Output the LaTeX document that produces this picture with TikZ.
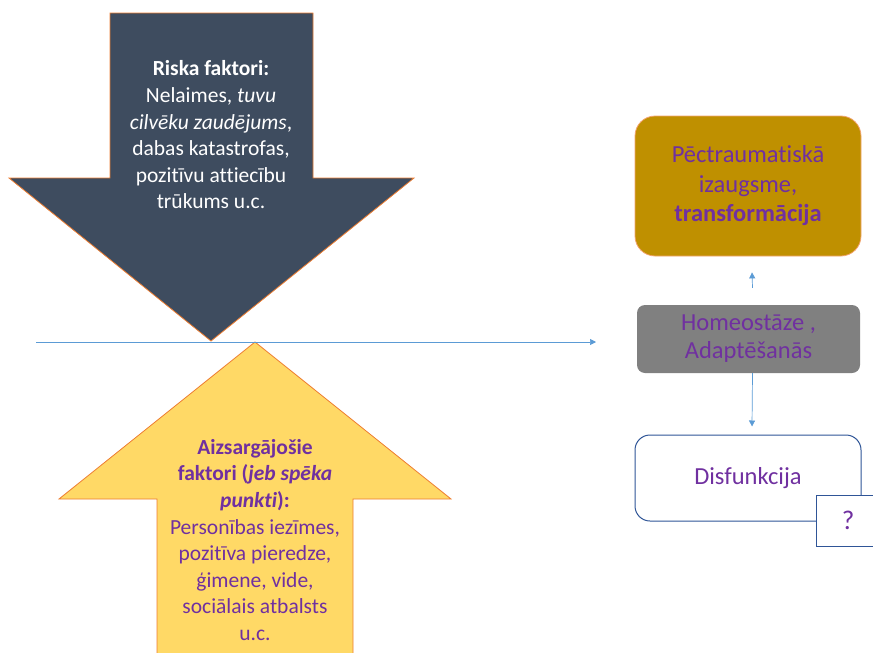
\documentclass[tikz,border=0pt]{standalone}
\usepackage{fontspec}
\setmainfont{Carlito}[Ligatures=NoCommon]
\usetikzlibrary{arrows.meta}
\definecolor{slate}{HTML}{3E4C5F}
\definecolor{gold}{HTML}{FFD966}
\definecolor{orng}{HTML}{ED7D31}
\definecolor{purp}{HTML}{7030A0}
\definecolor{dgold}{HTML}{BF9000}
\definecolor{lblue}{HTML}{5B9BD5}
\definecolor{dblue}{HTML}{2F5597}
\tikzset{
  arrowshape/.style={draw=orng, line width=0.8pt, line join=miter},
  conn/.style={draw=lblue, line width=0.7pt, -{Triangle[length=6pt,width=6pt]}},
  txt/.style={align=center, font=\fontsize{21.5}{26.6}\selectfont},
  boxtxt/.style={align=center, font=\fontsize{24.5}{29.5}\selectfont, text=purp},
}
\begin{document}
\begin{tikzpicture}[x=1pt,y=-1pt]
\useasboundingbox (0,0) rectangle (873,653);
% down arrow (risk factors)
\path[arrowshape, fill=slate] (110,13) -- (313,13) -- (313,178) -- (414,178) -- (211,341) -- (9,178) -- (110,178) -- cycle;
\node[txt, text=white] (risk) at (211,135) {\textbf{Riska faktori:}\\Nelaimes, \textit{tuvu}\\\textit{cilvēku zaudējums},\\dabas katastrofas,\\pozitīvu attiecību\\trūkums u.c.};
% up arrow (protective factors)
\path[arrowshape, fill=gold] (157,665) -- (157,499) -- (59,499) -- (255,342) -- (451,499) -- (353,499) -- (353,665) -- cycle;
\node[txt, text=purp] (prot) at (255,540) {\textbf{Aizsargājošie}\\\textbf{faktori (\textit{jeb spēka}}\\\textbf{\textit{punkti}):}\\Personības iezīmes,\\pozitīva pieredze,\\ģimene, vide,\\sociālais atbalsts\\u.c.};
% timeline
\coordinate (ls) at (36,342);
\coordinate (le) at (596,342);
\draw[conn] (ls) -- (le);
% right boxes
\node[boxtxt, draw=orng!70, line width=0.8pt, fill=dgold, rounded corners=20pt, minimum width=226pt, minimum height=140pt] (ptg) at (748,186) {Pēctraumatiskā\\izaugsme,\\\textbf{transformācija}};
\node[boxtxt, fill=gray!100, rounded corners=8pt, minimum width=223pt, minimum height=68pt, font=\fontsize{24.5}{28}\selectfont] (homeo) at (748.5,339) {Homeostāze ,\\Adaptēšanās};
\node[boxtxt, draw=dblue, line width=1pt, fill=white, rounded corners=15pt, minimum width=226pt, minimum height=86pt] (dis) at (748,478) {\raisebox{-2pt}{Disfunkcija}};
\node[boxtxt, draw=dblue, line width=1pt, fill=white, minimum width=64pt, minimum height=51pt, font=\fontsize{27}{30}\selectfont] (q) at (848,520.5) {?};
% connectors between boxes
\draw[conn] ([xshift=4pt,yshift=17pt]homeo.north) -- ([xshift=4pt,yshift=-16pt]ptg.south);
\draw[conn] ([xshift=4pt]homeo.south) -- ([xshift=4pt,yshift=8pt]dis.north);
\end{tikzpicture}
\end{document}
